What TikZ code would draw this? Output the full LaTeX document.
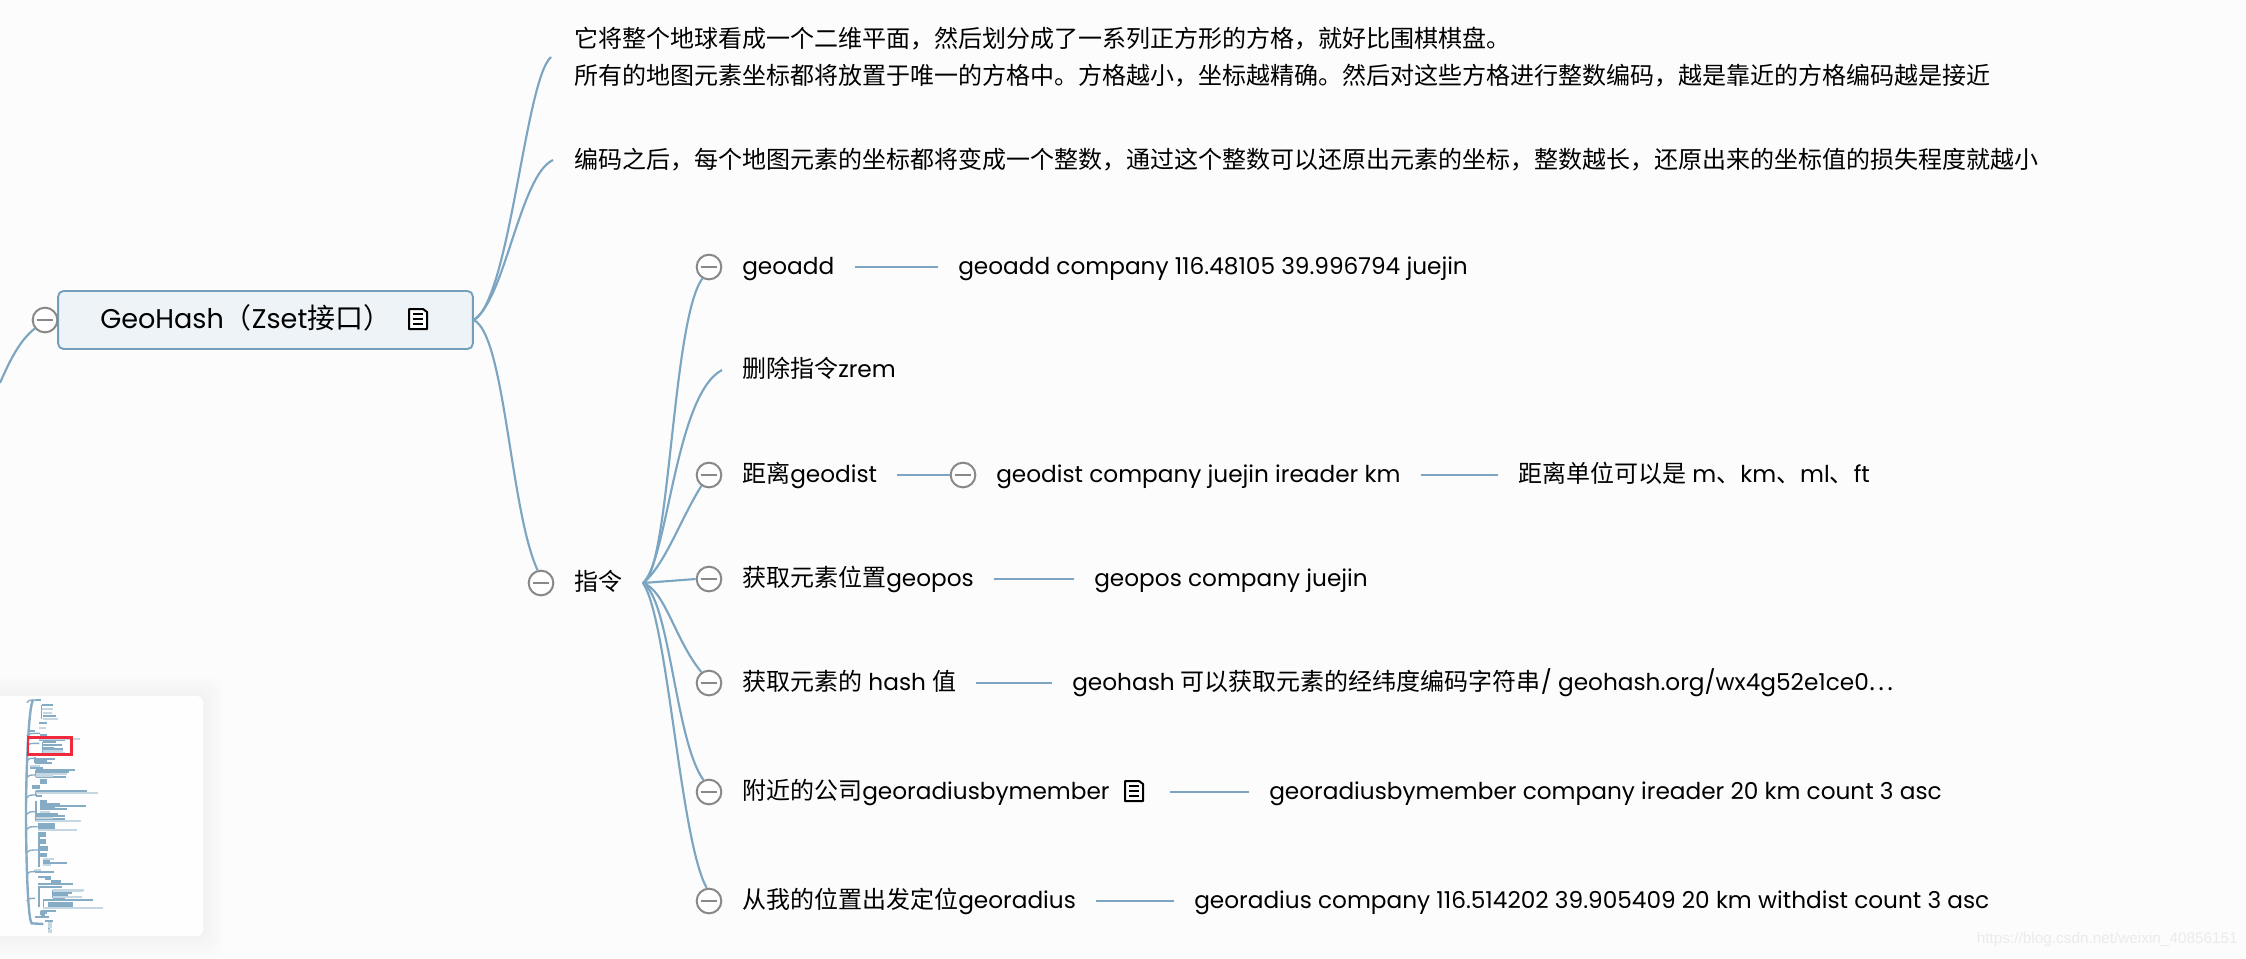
\documentclass[tikz,border=0pt]{standalone}
\usepackage{fontspec}
\setmainfont[Scale=0.967]{Poppins}
\newfontfamily\cjkfont{Noto Sans CJK SC}
\newfontfamily\markfont{Liberation Sans}
\newcommand{\zh}[1]{{\cjkfont #1}}
\usetikzlibrary{positioning}

\definecolor{xmindblue}{HTML}{7BA5C1}
\definecolor{xmindedge}{HTML}{739FBC}
\definecolor{xmindfill}{HTML}{EEF3F7}
\definecolor{foldgrey}{HTML}{888888}
\definecolor{canvas}{HTML}{FCFCFC}
\definecolor{minidark}{HTML}{86ABC4}
\definecolor{minilight}{HTML}{C5D7E3}
\definecolor{miniframe}{HTML}{EE2A3C}

\tikzset{
  branch/.style={draw=xmindblue,line width=1.6pt},
  rootbox/.style={draw=xmindedge,fill=xmindfill,line width=1.4pt,rounded corners=4pt,minimum width=311pt,minimum height=43.5pt,inner sep=0pt},
  topic/.style={anchor=west,inner xsep=15pt,inner ysep=0pt,text height=15.5pt,text depth=5pt,font=\fontsize{18}{21}\selectfont},
  note/.style={anchor=west,inner sep=0pt,align=left,font=\fontsize{18}{27.75}\selectfont},
  fold/.style={circle,draw=foldgrey,fill=white,line width=1.5pt,minimum size=18.5pt,inner sep=0pt,
    path picture={\draw[foldgrey,line width=1.6pt] ([xshift=3pt]path picture bounding box.west) -- ([xshift=-3pt]path picture bounding box.east);}},
  noteicon/.pic={
    \draw[line width=1.5pt,fill=white,line join=round] (-9,-10) -- (9,-10) -- (9,7) -- (5,10) -- (-9,10) -- cycle;
    \foreach \ylin in {-5,0,5} \draw[line width=1.4pt] (-5,\ylin) -- (5,\ylin);
  }
}

\begin{document}
\begin{tikzpicture}[x=0.75pt,y=0.75pt,yscale=-1,xscale=1]
\useasboundingbox (0,0) rectangle (2246,958);
\fill[canvas] (0,0) rectangle (2246,958);

%Overview panel
\foreach \grow in {2,4,...,20}
  \fill[black,opacity=0.005,rounded corners=8pt] (-30,696-\grow) rectangle (203+\grow,936+\grow);
\fill[white!60!canvas,rounded corners=4pt] (-30,696) rectangle (203,936);

\begin{scope}[shift={(0,680)},x=0.25pt,y=0.25pt]
\draw[minidark,line width=1.8pt] (100,60) .. controls (85,70) and (78,300) .. (78,395) .. controls (78,500) and (82,715) .. (95,730) -- (130,732);
\foreach \ybr/\xbr in {60/105,160/120,190/118,235/103,285/108,345/108,395/108,440/113,510/116,575/105,655/105}
  \draw[minidark,line width=1pt] (80,\ybr+8) .. controls (85,\ybr) and (90,\ybr) .. (\xbr,\ybr);
\foreach \xst/\yup/\ydn in {125/75/116,128/187/218,105/230/250,108/271/292,108/334/347,108/364/424,117/456/560,105/570/577,117/620/680,158/629/655,130/661/683,122/692/705,147/722/757}
  \draw[minidark,line width=1pt] (\xst,\yup) -- (\xst,\ydn);
\foreach \ylin/\xa/\xb in {60/105/122,75/125/160,108/128/168,130/118/140,152/90/105,181/118/195,187/128/168,196/128/187,203/128/162,208/128/190,236/105/165,244/105/140,250/105/155,265/90/130,271/108/225,277/108/208,292/108/197,334/108/260,347/108/125,371/120/180,377/120/258,383/120/165,388/120/200,403/108/173,408/108/195,418/108/195,544/128/150,550/128/200,577/105/162,590/115/152,597/135/152,613/115/220,620/115/185,640/158/217,645/158/205,655/158/195,661/130/280,692/122/167,698/122/140,705/122/135,710/105/148,722/135/158}
  \draw[minidark,line width=1.3pt] (\xa,\ylin) -- (\xb,\ylin);
\foreach \ylin/\xa/\xb in {88/125/160,98/128/155,116/128/175,143/118/138,176/118/240,214/128/190,218/128/195,257/90/120,282/108/200,287/108/160,340/108/293,397/120/150,413/108/160,424/108/242,450/113/230,538/128/162,556/128/153,570/105/122,629/158/252,634/158/250,650/158/245,683/130/308,728/145/155,735/145/155,742/145/155,750/145/155,757/145/155}
  \draw[minilight,line width=1.6pt] (\xa,\ylin) -- (\xb,\ylin);
\foreach \xa/\ya/\xb/\yb in {120/161/141/170,120/297/141/311,96/315/119/328,120/360/142/368,113/429/164/446,116/456/138/472,116/477/138/492,116/497/143/514,116/518/141/530,153/600/182/610,145/665/218/680}
  \fill[minidark] (\xa,\ya) rectangle (\xb,\yb);
\draw[miniframe,line width=1.8pt] (84,172) rectangle (214,223);
\end{scope}

%Root topic
\node[rootbox] (geohash) at (265.5,320) {};
\node[anchor=west,inner sep=0pt,font=\fontsize{21}{25}\selectfont] (geohashtitle) at (100,318) {GeoHash\zh{（}Zset\zh{接口）}};
\pic at (418,319) {noteicon};
\node[fold] (foldroot) at (45,320) {};
\coordinate (offleft) at (0,383);

%Notes
\node[note] (noteone) at (574,57) {\zh{它将整个地球看成一个二维平面，然后划分成了一系列正方形的方格，就好比围棋棋盘。}\\\zh{所有的地图元素坐标都将放置于唯一的方格中。方格越小，坐标越精确。然后对这些方格进行整数编码，越是靠近的方格编码越是接近}};
\node[note] (notetwo) at (574,160) {\zh{编码之后，每个地图元素的坐标都将变成一个整数，通过这个整数可以还原出元素的坐标，整数越长，还原出来的坐标值的损失程度就越小}};
\coordinate (noteonein) at (551,57);
\coordinate (notetwoin) at (553,160);

%Commands
\node[fold] (foldcmd) at (541,583) {};
\node[topic] (cmd) at (554,583) {\zh{指令}};
\coordinate (hub) at (643,583);

\node[fold] (foldadd) at (709,267) {};
\node[fold] (folddist) at (709,475) {};
\node[fold] (foldpos) at (709,579) {};
\node[fold] (foldhash) at (709,683) {};
\node[fold] (foldnear) at (709,792) {};
\node[fold] (foldmine) at (709,901) {};

\node[topic] (add) at (722,267) {geoadd};
\node[topic] (addcode) at (938,267) {geoadd company 116.48105 39.996794 juejin};
\node[topic] (rem) at (722,370) {\zh{删除指令}zrem};
\node[topic] (dist) at (722,475) {\zh{距离}geodist};
\node[fold] (foldcode) at (963,475) {};
\node[topic] (distcode) at (976,475) {geodist company juejin ireader km};
\node[topic] (distunit) at (1498,475) {\zh{距离单位可以是} m\zh{、}km\zh{、}ml\zh{、}ft};
\node[topic] (pos) at (722,579) {\zh{获取元素位置}geopos};
\node[topic] (poscode) at (1074,579) {geopos company juejin};
\node[topic] (hash) at (722,683) {\zh{获取元素的} hash \zh{值}};
\node[topic] (hashcode) at (1052,683) {geohash \zh{可以获取元素的经纬度编码字符串}/ geohash.org/wx4g52e1ce0\zh{⋯}};
\node[topic] (near) at (722,792) {\zh{附近的公司}georadiusbymember};
\pic at (1134,791) {noteicon};
\coordinate (nearicon) at (1170,792);
\node[topic] (nearcode) at (1249,792) {georadiusbymember company ireader 20 km count 3 asc};
\node[topic] (mine) at (722,901) {\zh{从我的位置出发定位}georadius};
\node[topic] (minecode) at (1174,901) {georadius company 116.514202 39.905409 20 km withdist count 3 asc};

%Watermark
\node[anchor=east,inner sep=0pt,text=black!8,font=\markfont\fontsize{11.5}{14}\selectfont] (mark) at (2238,940) {https://blog.csdn.net/weixin\_40856151};

%Connectors
\draw[branch] (offleft) .. controls (10,360) and (20,340) .. (foldroot.220);
\draw[branch] (geohash.east) .. controls (510,300) and (525,80) .. (noteonein);
\draw[branch] (geohash.east) .. controls (505,300) and (520,175) .. (notetwoin);
\draw[branch] (geohash.east) .. controls (505,335) and (510,510) .. (foldcmd.105);
\draw[branch] (hub) .. controls (670,570) and (672,320) .. (foldadd.240);
\draw[branch] (hub) .. controls (668,560) and (675,395) .. (rem.west);
\draw[branch] (hub) .. controls (665,565) and (680,520) .. (folddist.235);
\draw[branch] (hub) -- (foldpos.west);
\draw[branch] (hub) .. controls (665,590) and (675,640) .. (foldhash.125);
\draw[branch] (hub) .. controls (670,600) and (675,740) .. (foldnear.115);
\draw[branch] (hub) .. controls (668,620) and (680,840) .. (foldmine.100);
\draw[branch] (add.east) -- (addcode.west);
\draw[branch] (dist.east) -- (foldcode.west);
\draw[branch] (distcode.east) -- (distunit.west);
\draw[branch] (pos.east) -- (poscode.west);
\draw[branch] (hash.east) -- (hashcode.west);
\draw[branch] (nearicon) -- (nearcode.west);
\draw[branch] (mine.east) -- (minecode.west);
\end{tikzpicture}
\end{document}
